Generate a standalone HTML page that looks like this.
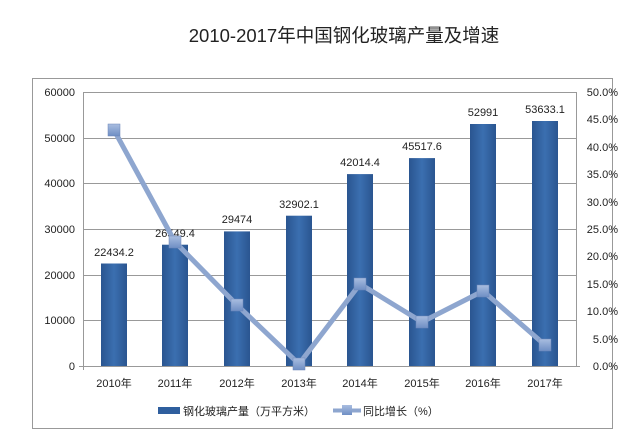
<!DOCTYPE html>
<html><head><meta charset="utf-8"><style>
body{margin:0;background:#fff;width:644px;height:437px;overflow:hidden}
text{font-family:"Liberation Sans","Noto Sans CJK SC",sans-serif}
</style></head><body>
<svg width="644" height="437" xmlns="http://www.w3.org/2000/svg">
<defs><linearGradient id="bg" x1="0" x2="1"><stop offset="0" stop-color="#2a5590"/><stop offset="0.5" stop-color="#3b6fb0"/><stop offset="1" stop-color="#2a5590"/></linearGradient>
<linearGradient id="mk" x1="0" y1="0" x2="0" y2="1"><stop offset="0" stop-color="#a9bde0"/><stop offset="1" stop-color="#6f8fc4"/></linearGradient></defs>
<text x="344" y="42" font-size="18.5" text-anchor="middle" fill="#222">2010-2017年中国钢化玻璃产量及增速</text>
<rect x="32.5" y="78.5" width="580" height="350" fill="none" stroke="#999"/>
<g stroke="#999" stroke-width="1">
<line x1="83" y1="92.5" x2="576" y2="92.5"/><line x1="83" y1="138.5" x2="576" y2="138.5"/><line x1="83" y1="183.5" x2="576" y2="183.5"/><line x1="83" y1="229.5" x2="576" y2="229.5"/><line x1="83" y1="275.5" x2="576" y2="275.5"/><line x1="83" y1="320.5" x2="576" y2="320.5"/>
<line x1="83.5" y1="92" x2="83.5" y2="370"/><line x1="576.5" y1="92" x2="576.5" y2="366"/><line x1="79" y1="366.5" x2="580" y2="366.5"/>
</g>
<g font-size="11" fill="#222" text-anchor="end">
<text x="75" y="96">60000</text><text x="75" y="142">50000</text><text x="75" y="187">40000</text><text x="75" y="233">30000</text><text x="75" y="279">20000</text><text x="75" y="324">10000</text><text x="75" y="370">0</text>
</g>
<g font-size="11" fill="#222" text-anchor="end">
<text x="618" y="96">50.0%</text><text x="618" y="123">45.0%</text><text x="618" y="151">40.0%</text><text x="618" y="178">35.0%</text><text x="618" y="206">30.0%</text><text x="618" y="233">25.0%</text><text x="618" y="260">20.0%</text><text x="618" y="288">15.0%</text><text x="618" y="315">10.0%</text><text x="618" y="343">5.0%</text><text x="618" y="370">0.0%</text>
</g>
<g fill="url(#bg)">
<rect x="101" y="263.5" width="26" height="102.5"/><rect x="162" y="244.7" width="26" height="121.3"/><rect x="224" y="231.4" width="26" height="134.6"/><rect x="286" y="215.7" width="26" height="150.3"/><rect x="347" y="174.1" width="26" height="191.9"/><rect x="409" y="158.1" width="26" height="207.9"/><rect x="470" y="124" width="26" height="242"/><rect x="532" y="121" width="26" height="245"/>
</g>
<g font-size="11" fill="#222" text-anchor="middle">
<text x="114" y="256">22434.2</text><text x="175" y="237">26549.4</text><text x="237" y="223">29474</text><text x="299" y="208">32902.1</text><text x="360" y="166">42014.4</text><text x="422" y="150">45517.6</text><text x="483" y="116">52991</text><text x="545" y="113">53633.1</text>
</g>
<polyline points="114,130 175,242 237,305 299,364 360,284 422,322 483,291 545,345" fill="none" stroke="#8ea6cf" stroke-width="5" stroke-linejoin="round"/>
<g fill="url(#mk)" stroke="#6c86b8" stroke-width="0.5">
<rect x="108" y="124" width="12" height="12"/><rect x="169" y="236" width="12" height="12"/><rect x="231" y="299" width="12" height="12"/><rect x="293" y="358" width="12" height="12"/><rect x="354" y="278" width="12" height="12"/><rect x="416" y="316" width="12" height="12"/><rect x="477" y="285" width="12" height="12"/><rect x="539" y="339" width="12" height="12"/>
</g>
<g font-size="11" fill="#222" text-anchor="middle">
<text x="114" y="387">2010年</text><text x="175" y="387">2011年</text><text x="237" y="387">2012年</text><text x="299" y="387">2013年</text><text x="360" y="387">2014年</text><text x="422" y="387">2015年</text><text x="483" y="387">2016年</text><text x="545" y="387">2017年</text>
</g>
<rect x="158" y="407" width="22" height="7" fill="#2f5f9e"/>
<text x="183" y="415" font-size="11" fill="#222">钢化玻璃产量（万平方米）</text>
<line x1="333" y1="410.5" x2="361" y2="410.5" stroke="#8ea6cf" stroke-width="4"/>
<rect x="342" y="405" width="10" height="10" fill="url(#mk)"/>
<text x="363" y="415" font-size="11" fill="#222">同比增长（%）</text>
</svg>
</body></html>
